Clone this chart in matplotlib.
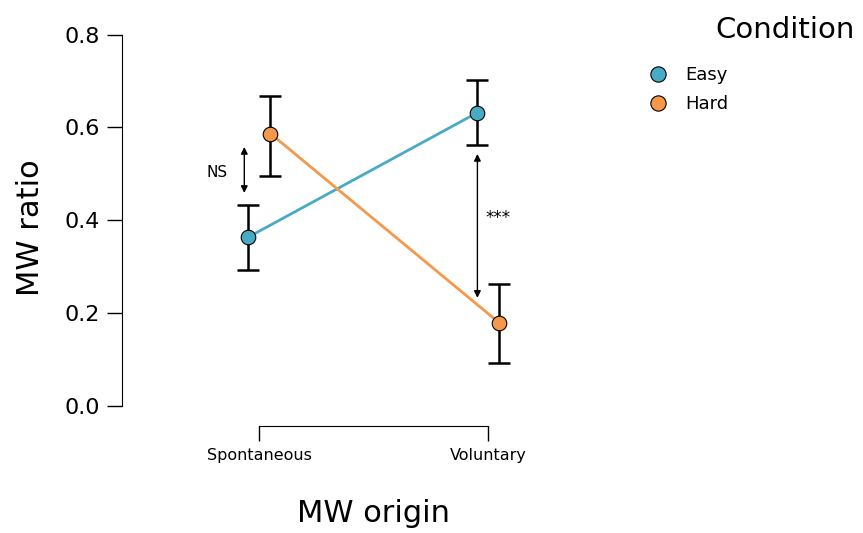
import numpy as np
import matplotlib.pyplot as plt
from matplotlib.lines import Line2D

# data
origins = ['Spontaneous', 'Voluntary']
conditions = ['Easy', 'Hard']
mean_easy = [0.364, 0.632]
lo_easy = [0.293, 0.563]
hi_easy = [0.433, 0.703]
mean_hard = [0.587, 0.179]
lo_hard = [0.496, 0.093]
hi_hard = [0.668, 0.263]
colors = {'Easy': '#47ABC6', 'Hard': '#F5984A'}

plt.rcParams['font.family'] = ['DejaVu Sans']

fig = plt.figure(figsize=(8.63, 5.33), dpi=100)
ax = fig.add_axes([122 / 863, 107 / 533, 458 / 863, 396 / 533])

x = np.arange(len(origins))
dodge = 0.048
series = [('Easy', mean_easy, lo_easy, hi_easy, -dodge),
          ('Hard', mean_hard, lo_hard, hi_hard, dodge)]
for name, m, lo, hi, off in series:
    m = np.array(m)
    yerr = [m - np.array(lo), np.array(hi) - m]
    ax.plot(x + off, m, color=colors[name], lw=2, zorder=2)
    ax.errorbar(x + off, m, yerr=yerr, fmt='none', ecolor='black',
                elinewidth=1.8, capsize=8, capthick=1.8, zorder=3)
    ax.plot(x + off, m, 'o', ms=10.5, mfc=colors[name], mec='black',
            mew=0.8, zorder=4)

# significance arrows
ax.annotate('', xy=(-0.066, 0.459), xytext=(-0.066, 0.558),
            arrowprops=dict(arrowstyle='<|-|>', color='black', lw=1,
                            mutation_scale=10, shrinkA=0, shrinkB=0))
ax.text(-0.183, 0.502, 'NS', ha='center', va='center', fontsize=11)
ax.annotate('', xy=(0.952, 0.233), xytext=(0.952, 0.543),
            arrowprops=dict(arrowstyle='<|-|>', color='black', lw=1,
                            mutation_scale=10, shrinkA=0, shrinkB=0))
ax.text(1.04, 0.405, '***', ha='center', va='center', fontsize=12)

ax.set_xlim(-0.6, 1.4)
ax.set_ylim(-0.043, 0.81)
ax.set_xticks(x)
ax.set_xticklabels(origins, fontsize=11.5)
ax.set_yticks([0.0, 0.2, 0.4, 0.6, 0.8])
ax.set_yticklabels(['0.0', '0.2', '0.4', '0.6', '0.8'], fontsize=16)
ax.spines['top'].set_visible(False)
ax.spines['right'].set_visible(False)
ax.spines['left'].set_bounds(0, 0.8)
ax.spines['bottom'].set_bounds(0, 1)
ax.tick_params(axis='both', length=11, width=1, pad=5)
ax.set_ylabel('MW ratio', fontsize=22, labelpad=14)
ax.set_xlabel('MW origin', fontsize=22)
ax.xaxis.set_label_coords(0.55, -0.185)

handles = [Line2D([], [], ls='', marker='o', ms=11, mfc=colors[c],
                  mec='black', mew=0.8) for c in conditions]
fig.legend(handles, conditions, loc='upper left',
           bbox_to_anchor=(624 / 863, 1 - 50 / 533), frameon=False,
           fontsize=13, handletextpad=0.5, labelspacing=0.6)
fig.text(785 / 863, 1 - 30 / 533, 'Condition', ha='center', va='center',
         fontsize=21)

fig.savefig('out.png', dpi=100)
